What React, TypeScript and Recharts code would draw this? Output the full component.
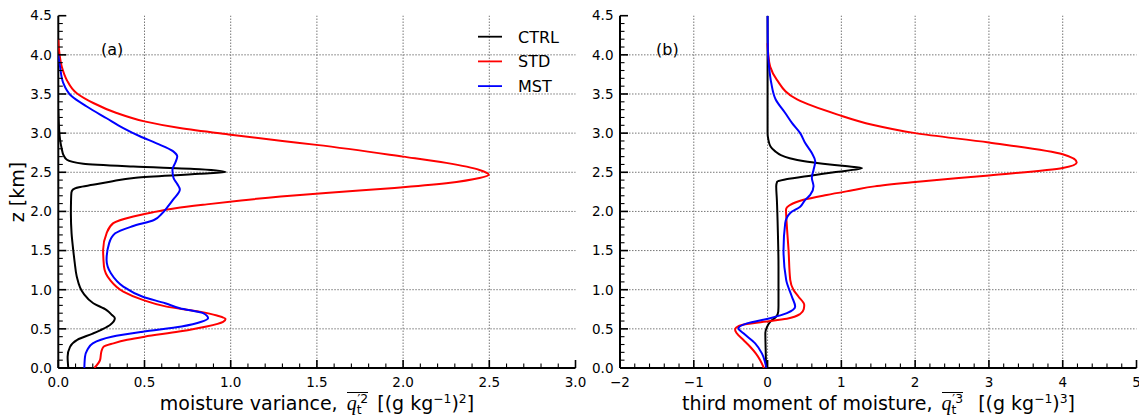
import React from "react";
import { ScatterChart, Scatter, XAxis, YAxis, ReferenceLine } from "recharts";

const FONT = '"DejaVu Sans", sans-serif';
const MATH = '"Liberation Serif", serif';

// panel (a): moisture variance profiles, height z [km] and value
const ctrlVarZ = [0, 0.145, 0.27, 0.36, 0.44, 0.5, 0.55, 0.635, 0.68, 0.74, 0.827, 0.955, 1.17, 1.35, 1.5, 1.72, 1.97, 2.15, 2.24, 2.28, 2.31, 2.34, 2.38, 2.43, 2.48, 2.505, 2.54, 2.574, 2.61, 2.66, 2.72, 2.8, 2.92, 3.05, 3.3];
const ctrlVar = [0.058, 0.054, 0.068, 0.11, 0.2, 0.26, 0.3, 0.328, 0.31, 0.28, 0.203, 0.145, 0.107, 0.095, 0.087, 0.077, 0.073, 0.074, 0.076, 0.085, 0.12, 0.2, 0.3, 0.45, 0.82, 0.97, 0.82, 0.435, 0.145, 0.05, 0.03, 0.02, 0.01, 0.005, 0];

const stdVarZ = [0, 0.1, 0.21, 0.27, 0.315, 0.36, 0.4, 0.465, 0.53, 0.59, 0.625, 0.67, 0.72, 0.784, 0.87, 0.976, 1.125, 1.295, 1.51, 1.72, 1.85, 1.935, 1.99, 2.04, 2.09, 2.14, 2.19, 2.24, 2.3, 2.36, 2.426, 2.468, 2.53, 2.62, 2.7, 2.85, 2.9, 2.98, 3.065, 3.15, 3.257, 3.385, 3.51, 3.68, 3.85, 4.05, 4.2];
const stdVar = [0.209, 0.242, 0.25, 0.262, 0.32, 0.4, 0.5, 0.7, 0.86, 0.956, 0.97, 0.92, 0.82, 0.628, 0.49, 0.377, 0.3, 0.265, 0.26, 0.28, 0.319, 0.435, 0.55, 0.68, 0.86, 1.06, 1.29, 1.57, 1.95, 2.25, 2.443, 2.497, 2.443, 2.25, 2.0, 1.497, 1.3, 1.0, 0.705, 0.5, 0.338, 0.203, 0.107, 0.049, 0.02, 0.005, 0];

const mstVarZ = [0, 0.145, 0.23, 0.315, 0.4, 0.464, 0.53, 0.59, 0.635, 0.7, 0.763, 0.827, 0.91, 1.04, 1.21, 1.38, 1.595, 1.72, 1.81, 1.89, 1.97, 2.06, 2.15, 2.28, 2.35, 2.43, 2.53, 2.63, 2.7, 2.77, 2.87, 2.96, 3.065, 3.19, 3.34, 3.47, 3.64, 3.85, 4.0];
const mstVar = [0.151, 0.155, 0.168, 0.2, 0.31, 0.49, 0.715, 0.83, 0.869, 0.84, 0.705, 0.62, 0.49, 0.377, 0.305, 0.28, 0.295, 0.33, 0.43, 0.555, 0.6, 0.635, 0.666, 0.705, 0.69, 0.668, 0.662, 0.68, 0.69, 0.665, 0.57, 0.473, 0.377, 0.28, 0.165, 0.078, 0.029, 0.01, 0];

// panel (b): third moment of moisture
const ctrlSkwZ = [0, 0.2, 0.45, 0.52, 0.59, 0.656, 0.72, 0.8, 1.3, 1.72, 2.15, 2.32, 2.38, 2.41, 2.46, 2.5, 2.554, 2.58, 2.61, 2.64, 2.68, 2.72, 2.77, 2.83, 2.92, 3.0, 4.5];
const ctrlSkw = [-0.02, -0.025, -0.03, -0.01, 0.035, 0.117, 0.145, 0.148, 0.148, 0.14, 0.126, 0.117, 0.13, 0.25, 0.6, 0.9, 1.28, 1.05, 0.75, 0.5, 0.3, 0.18, 0.1, 0.04, 0.01, 0, 0];

const stdSkwZ = [0, 0.1, 0.187, 0.272, 0.358, 0.443, 0.49, 0.52, 0.55, 0.59, 0.63, 0.69, 0.75, 0.805, 0.91, 1.0, 1.125, 1.51, 1.807, 2.02, 2.083, 2.148, 2.21, 2.27, 2.32, 2.375, 2.46, 2.554, 2.626, 2.73, 2.88, 3.0, 3.107, 3.24, 3.43, 3.68, 3.85, 4.0, 4.15];
const stdSkw = [-0.05, -0.1, -0.16, -0.236, -0.327, -0.417, -0.44, -0.42, -0.35, -0.055, 0.262, 0.442, 0.49, 0.497, 0.42, 0.35, 0.307, 0.284, 0.262, 0.25, 0.307, 0.487, 0.8, 1.15, 1.45, 2.0, 3.0, 4.0, 4.19, 4.0, 3.0, 2.0, 1.42, 0.94, 0.4, 0.126, 0.035, 0.01, 0];

const mstSkwZ = [0, 0.187, 0.315, 0.443, 0.507, 0.57, 0.636, 0.7, 0.784, 0.91, 1.125, 1.51, 1.85, 1.98, 2.06, 2.148, 2.21, 2.32, 2.43, 2.53, 2.64, 2.746, 2.873, 3.0, 3.13, 3.257, 3.43, 3.64, 3.85, 4.05, 4.5];
const mstSkw = [-0.015, -0.077, -0.168, -0.327, -0.395, -0.28, 0.035, 0.262, 0.374, 0.33, 0.252, 0.216, 0.239, 0.307, 0.442, 0.51, 0.578, 0.623, 0.6, 0.623, 0.646, 0.6, 0.51, 0.442, 0.33, 0.239, 0.11, 0.05, 0.02, 0.005, 0];

const seriesNames = ["CTRL", "STD", "MST"];
const seriesColors = ["#000000", "#ff0000", "#0000ff"];

// axes
const zMajor = [0, 0.5, 1, 1.5, 2, 2.5, 3, 3.5, 4, 4.5];
const varMajor = [0, 0.5, 1, 1.5, 2, 2.5, 3];
const skwMajor = [-2, -1, 0, 1, 2, 3, 4, 5];

const steps = (a: number, b: number, s: number) => {
  const out: number[] = [];
  for (let i = 0; a + i * s <= b + 1e-9; i++) out.push(Math.round((a + i * s) * 100) / 100);
  return out;
};
const zTicks = steps(0, 4.5, 0.1);
const varTicks = steps(0, 3, 0.1);
const skwTicks = steps(-2, 5, 0.2);

const pts = (z: number[], v: number[]) => z.map((h, i) => ({ v: v[i], z: h }));

type Side = "bottom" | "top" | "left" | "right";

const makeTick = (side: Side, majors: number[], gap: number, fmt?: (v: number) => string) =>
  (props: any) => {
    const { x, y, payload } = props;
    const val = Number(payload.value);
    const major = majors.some((m) => Math.abs(m - val) < 1e-6);
    const len = major ? 8 : 4.5;
    let line;
    if (side === "bottom") line = <line x1={x} x2={x} y1={y - gap} y2={y - gap - len} />;
    else if (side === "top") line = <line x1={x} x2={x} y1={y + gap} y2={y + gap + len} />;
    else if (side === "left") line = <line x1={x + gap} x2={x + gap + len} y1={y} y2={y} />;
    else line = <line x1={x - gap} x2={x - gap - len} y1={y} y2={y} />;
    return (
      <g>
        <g stroke="#000" strokeWidth={major ? 1.6 : 1.1}>{line}</g>
        {major && fmt && (
          <text
            x={x}
            y={y}
            dy={side === "bottom" ? "0.71em" : "0.355em"}
            textAnchor={side === "bottom" ? "middle" : "end"}
            fontFamily={FONT}
            fontSize={13.5}
            fill="#000"
          >
            {fmt(val)}
          </text>
        )}
      </g>
    );
  };

const fmt1 = (v: number) => v.toFixed(1);
const fmtInt = (v: number) => String(v).replace("-", "\u2212");
const noDot = () => <g />;
const spine = { stroke: "#000", strokeWidth: 2 };

function Panel(props: {
  width: number;
  yWidth: number;
  right: number;
  domain: [number, number];
  ticks: number[];
  majors: number[];
  fmt: (v: number) => string;
  data: { v: number; z: number }[][];
}) {
  const { width, yWidth, right, domain, ticks, majors, fmt, data } = props;
  return (
    <ScatterChart width={width} height={419} margin={{ top: 15.7, right, bottom: 0, left: 0 }}>
      <XAxis
        xAxisId="b"
        type="number"
        dataKey="v"
        domain={domain}
        allowDataOverflow
        ticks={ticks}
        interval={0}
        height={51}
        tickSize={0}
        tickMargin={9}
        tickLine={false}
        axisLine={spine}
        tick={makeTick("bottom", majors, 9, fmt)}
      />
      <XAxis
        xAxisId="t"
        orientation="top"
        type="number"
        domain={domain}
        allowDataOverflow
        ticks={ticks}
        interval={0}
        height={0}
        tickSize={0}
        tickMargin={0}
        tickLine={false}
        axisLine={spine}
        tick={makeTick("top", majors, 0)}
      />
      <YAxis
        yAxisId="l"
        type="number"
        dataKey="z"
        domain={[0, 4.5]}
        allowDataOverflow
        ticks={zTicks}
        interval={0}
        width={yWidth}
        tickSize={0}
        tickMargin={6.5}
        tickLine={false}
        axisLine={spine}
        tick={makeTick("left", zMajor, 6.5, fmt1)}
      />
      <YAxis
        yAxisId="r"
        orientation="right"
        type="number"
        domain={[0, 4.5]}
        allowDataOverflow
        ticks={zTicks}
        interval={0}
        width={0}
        tickSize={0}
        tickMargin={0}
        tickLine={false}
        axisLine={spine}
        tick={makeTick("right", zMajor, 0)}
      />
      {majors.slice(1, -1).map((m) => (
        <ReferenceLine key={"x" + m} xAxisId="b" yAxisId="l" x={m} stroke="#777" strokeWidth={1} strokeDasharray="1.5 1.5" />
      ))}
      {zMajor.slice(1, -1).map((m) => (
        <ReferenceLine key={"y" + m} xAxisId="b" yAxisId="l" y={m} stroke="#777" strokeWidth={1} strokeDasharray="1.5 1.5" />
      ))}
      {data.map((d, i) => (
        <Scatter
          key={seriesNames[i]}
          name={seriesNames[i]}
          xAxisId="b"
          yAxisId="l"
          data={d}
          fill={seriesColors[i]}
          line={{ stroke: seriesColors[i], strokeWidth: 2 }}
          lineType="joint"
          lineJointType="monotoneY"
          shape={noDot}
          isAnimationActive={false}
        />
      ))}
    </ScatterChart>
  );
}

const Over = ({ children }: { children: React.ReactNode }) => (
  <span style={{ display: "inline-block", borderTop: "1.2px solid #000", paddingTop: 2, lineHeight: "16px", margin: "0 3px" }}>
    {children}
  </span>
);
const Sub = ({ children }: { children: React.ReactNode }) => (
  <span style={{ fontSize: "0.65em", position: "relative", top: "0.35em", lineHeight: 0 }}>{children}</span>
);
const Sup = ({ children, shift = 0 }: { children: React.ReactNode; shift?: number }) => (
  <span style={{ fontSize: "0.65em", position: "relative", top: "-0.55em", lineHeight: 0, marginLeft: shift }}>{children}</span>
);

const labelStyle: React.CSSProperties = {
  position: "absolute",
  top: 392,
  textAlign: "center",
  fontFamily: FONT,
  fontSize: 19,
  lineHeight: "19px",
  whiteSpace: "nowrap",
  color: "#000",
};

export default function App() {
  return (
    <div style={{ position: "absolute", left: 0, top: 0, width: 1139, height: 419, background: "#fff", overflow: "hidden" }}>
      <div style={{ position: "absolute", left: 0, top: 0 }}>
        <Panel
          width={590}
          yWidth={58.3}
          right={14.5}
          domain={[0, 3]}
          ticks={varTicks}
          majors={varMajor}
          fmt={fmt1}
          data={[pts(ctrlVarZ, ctrlVar), pts(stdVarZ, stdVar), pts(mstVarZ, mstVar)]}
        />
      </div>
      <div style={{ position: "absolute", left: 580, top: 0 }}>
        <Panel
          width={559}
          yWidth={40}
          right={2.5}
          domain={[-2, 5]}
          ticks={skwTicks}
          majors={skwMajor}
          fmt={fmtInt}
          data={[pts(ctrlSkwZ, ctrlSkw), pts(stdSkwZ, stdSkw), pts(mstSkwZ, mstSkw)]}
        />
      </div>
      <svg width={1139} height={419} style={{ position: "absolute", left: 0, top: 0, pointerEvents: "none" }}>
        <text transform="translate(24,192) rotate(-90)" textAnchor="middle" fontFamily={FONT} fontSize={19}>
          z [km]
        </text>
        <text x={101} y={54.5} fontFamily={FONT} fontSize={16}>(a)</text>
        <text x={656} y={54.5} fontFamily={FONT} fontSize={16}>(b)</text>
        {seriesNames.map((n, i) => (
          <g key={n}>
            <line x1={478} x2={502} y1={36.7 + i * 24.7} y2={36.7 + i * 24.7} stroke={seriesColors[i]} strokeWidth={1.8} />
            <text x={518} y={36.7 + i * 24.7 + 5.8} fontFamily={FONT} fontSize={16}>{n}</text>
          </g>
        ))}
      </svg>
      <div style={{ ...labelStyle, left: 58, width: 518 }}>
        moisture variance,{" "}
        <Over>
          <i style={{ fontFamily: MATH, fontSize: 20 }}>q</i>
          <Sub>t</Sub>
          <Sup shift={-4}>{"\u2032"}2</Sup>
        </Over>{" "}
        [(g kg<Sup>{"\u2212"}1</Sup>)<Sup>2</Sup>]
      </div>
      <div style={{ ...labelStyle, left: 620, width: 517 }}>
        third moment of moisture,{" "}
        <Over>
          <i style={{ fontFamily: MATH, fontSize: 20 }}>q</i>
          <Sub>t</Sub>
          <Sup shift={-4}>{"\u2032"}3</Sup>
        </Over>{"\u00a0 "}
        [(g kg<Sup>{"\u2212"}1</Sup>)<Sup>3</Sup>]
      </div>
    </div>
  );
}
